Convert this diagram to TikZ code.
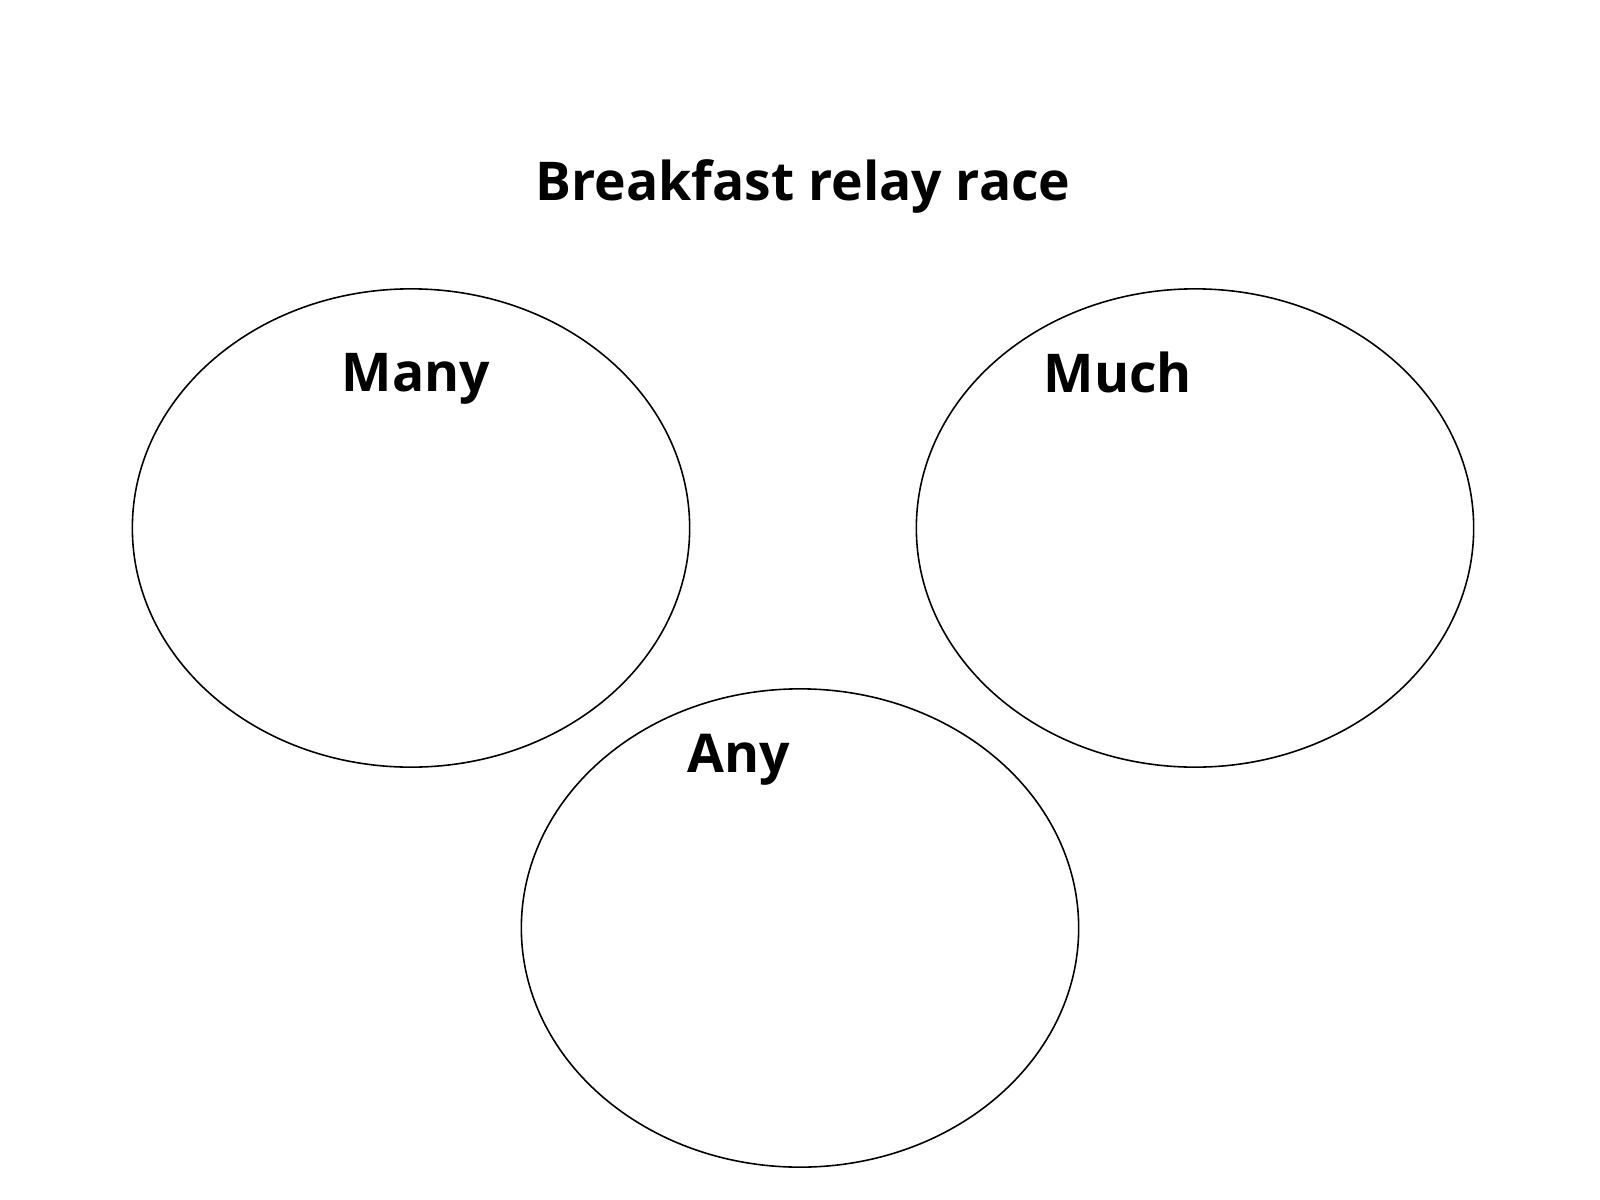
\documentclass[tikz,border=0pt]{standalone}
\usepackage{fontspec}
\setmainfont{Open Sans}
\usetikzlibrary{shapes.geometric}
\begin{document}
\begin{tikzpicture}[x=0.01cm,y=-0.01cm,
  oval/.style={draw=black,line width=0.45pt,ellipse,inner sep=0pt,minimum width=5.57cm,minimum height=4.78cm},
  lbl/.style={anchor=base,inner sep=0pt,font=\fontsize{15.2pt}{18pt}\selectfont\bfseries}]
\useasboundingbox[fill=white] (0,0) rectangle (1600,1200);
\node[lbl] (title) at (803,200) {Breakfast relay race};
\node[oval] (many) at (411,528) {};
\node[oval] (much) at (1195,528) {};
\node[oval] (any) at (800,928) {};
\node[lbl] (manyl) at (416,391) {Many};
\node[lbl] (muchl) at (1118,392) {Much};
\node[lbl] (anyl) at (739,772) {Any};
\end{tikzpicture}
\end{document}
